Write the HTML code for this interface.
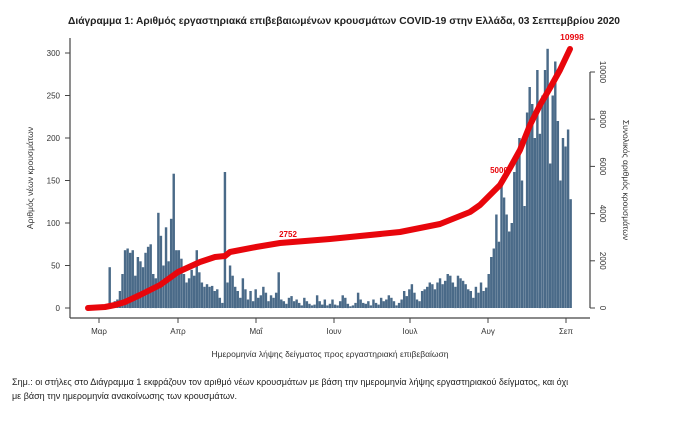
<!DOCTYPE html><html><head><meta charset="utf-8"><style>
body{margin:0;background:#fff;width:678px;height:424px;overflow:hidden;font-family:"Liberation Sans","DejaVu Sans",sans-serif}
</style></head><body>
<svg id="s" width="678" height="424" xmlns="http://www.w3.org/2000/svg" font-family="Liberation Sans, DejaVu Sans, sans-serif">
<text x="68" y="24" font-size="10.5" font-weight="bold" fill="#222" textLength="552" lengthAdjust="spacingAndGlyphs">Διάγραμμα 1: Αριθμός εργαστηριακά επιβεβαιωμένων κρουσμάτων COVID-19 στην Ελλάδα, 03 Σεπτεμβρίου 2020</text>
<g id="bars" fill="#4a6a88"></g>
<g stroke="#444" stroke-width="1.2" fill="none">
<line x1="70" y1="38" x2="70" y2="318"/><line x1="70" y1="318" x2="590" y2="318"/>
<line x1="590" y1="72" x2="590" y2="308"/>
</g>
<g id="ax" font-size="8" fill="#333"></g>
<polyline id="cum" fill="none" stroke="#e8060c" stroke-width="6" stroke-linejoin="round" stroke-linecap="round"/>
<text x="288" y="237" font-size="8" font-weight="bold" fill="#e8060c" text-anchor="middle">2752</text>
<text x="499" y="173" font-size="8" font-weight="bold" fill="#e8060c" text-anchor="middle">5000</text>
<text x="572" y="40" font-size="8.5" font-weight="bold" fill="#e8060c" text-anchor="middle">10998</text>
<text transform="translate(33,178) rotate(-90)" font-size="8.5" fill="#333" text-anchor="middle">Αριθμός νέων κρουσμάτων</text>
<text transform="translate(623,180) rotate(90)" font-size="8.5" fill="#333" text-anchor="middle">Συνολικός αριθμός κρουσμάτων</text>
<text x="330" y="357" font-size="8.5" fill="#333" text-anchor="middle">Ημερομηνία λήψης δείγματος προς εργαστηριακή επιβεβαίωση</text>
<text x="12" y="385" font-size="9" fill="#222">Σημ.: οι στήλες στο Διάγραμμα 1 εκφράζουν τον αριθμό νέων κρουσμάτων με βάση την ημερομηνία λήψης εργαστηριακού δείγματος, και όχι</text>
<text x="12" y="399" font-size="9" fill="#222">με βάση την ημερομηνία ανακοίνωσης των κρουσμάτων.</text>
</svg>
<script>
var d=[1,2,1,3,
2,1,3,3,48,3,8,10,20,40,68,70,65,68,38,60,55,48,65,72,75,40,35,112,85,50,95,55,105,158,68,
68,58,40,30,35,45,38,68,42,30,25,28,25,26,20,22,12,6,160,30,50,38,25,20,12,35,22,10,20,8,
22,12,15,25,18,8,15,12,18,42,10,8,5,12,14,8,10,6,3,12,8,5,3,4,15,8,4,10,3,5,10,
4,3,8,15,12,5,2,3,6,18,10,6,5,8,3,10,6,4,12,8,10,15,12,8,3,6,10,20,14,22,
28,18,10,8,20,22,25,30,28,22,30,35,28,32,40,38,30,25,38,35,32,28,22,20,12,25,18,30,20,24,40,
60,70,110,78,150,130,110,90,100,160,180,200,150,120,230,260,240,200,280,205,250,280,305,170,250,290,220,150,200,190,
210,128];
var g=document.getElementById('bars'),h='';
var n=d.length;var x0=88,dx=(572-88)/n;
for(var i=0;i<n;i++){var v=d[i],hh=v*0.85;h+='<rect x="'+(x0+i*dx).toFixed(2)+'" y="'+(308-hh).toFixed(1)+'" width="'+(dx*0.95).toFixed(2)+'" height="'+hh.toFixed(1)+'"/>';}
g.innerHTML=h;
var a='';
[0,50,100,150,200,250,300].forEach(function(v){var y=308-v*0.85;a+='<line x1="65" x2="70" y1="'+y+'" y2="'+y+'" stroke="#444"/><text x="60" y="'+(y+3)+'" text-anchor="end">'+v+'</text>';});
[0,2000,4000,6000,8000,10000].forEach(function(v){var y=308-v*0.0236;a+='<line x1="590" x2="595" y1="'+y+'" y2="'+y+'" stroke="#444"/><text transform="translate(600,'+y+') rotate(90)" text-anchor="middle">'+v+'</text>';});
[['Μαρ',99],['Απρ',178],['Μαΐ',256],['Ιουν',334],['Ιουλ',410],['Αυγ',488],['Σεπ',566]].forEach(function(t){a+='<line x1="'+t[1]+'" x2="'+t[1]+'" y1="318" y2="323" stroke="#444"/><text x="'+t[1]+'" y="334" text-anchor="middle">'+t[0]+'</text>';});
document.getElementById('ax').innerHTML=a;
document.getElementById('cum').setAttribute('points','88,308 105,307 115,305 125,302 140,295 160,285 178,272 200,262 215,257 225,256 230,252 256,247 280,243 330,239 400,232 440,224 470,212 480,205 490,195 500,185 510,168 520,150 530,125 540,105 550,88 560,70 570,49');
</script>
</body></html>
